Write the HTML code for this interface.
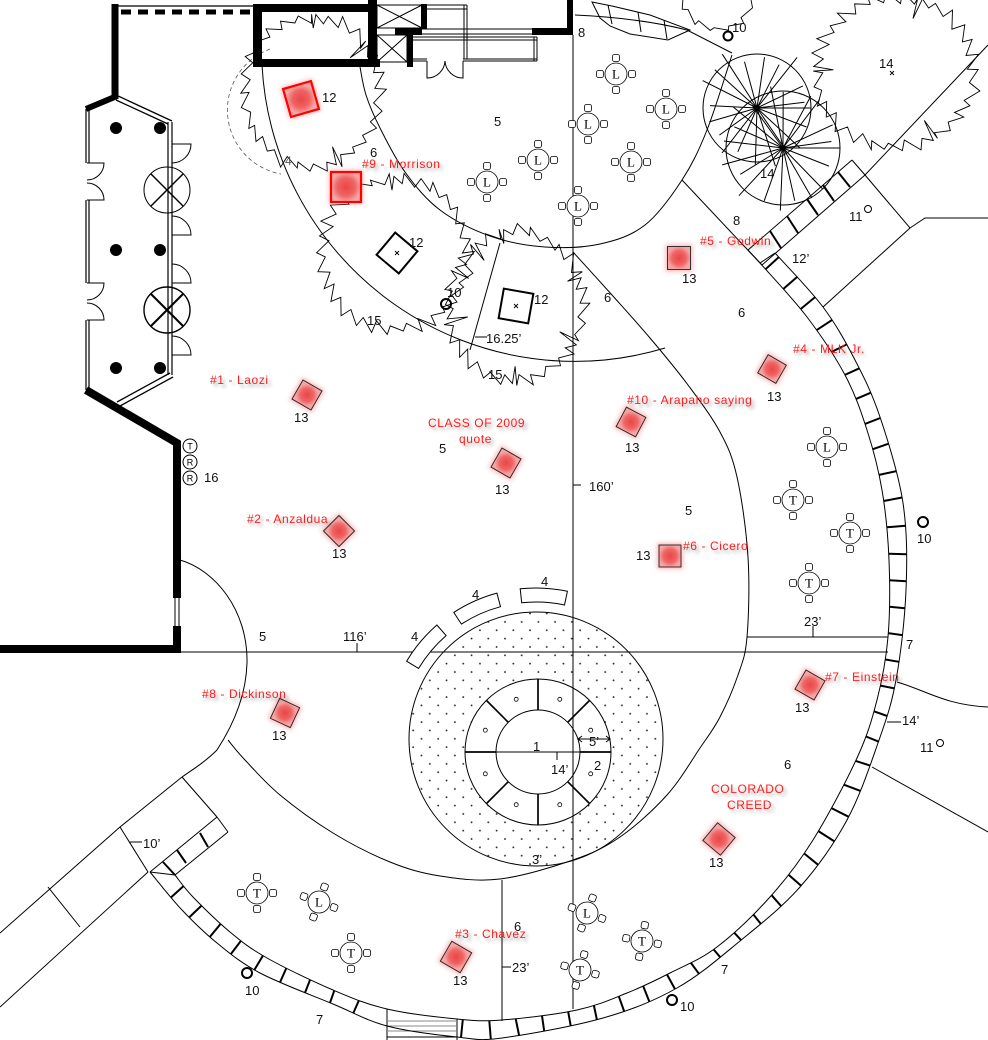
<!DOCTYPE html>
<html><head><meta charset="utf-8">
<style>
html,body{margin:0;padding:0;background:#fff;}
svg{display:block;}
.n{font-family:"Liberation Sans",Arial,sans-serif;font-size:13px;fill:#111;}
.r{font-family:"Liberation Sans",Arial,sans-serif;font-size:12px;fill:#ff1a1a;letter-spacing:0.6px;filter:url(#sh);}
.t{font-family:"Liberation Serif",serif;font-size:13px;fill:#000;text-anchor:middle;}
.s{font-family:"Liberation Sans",Arial,sans-serif;font-size:9px;fill:#000;text-anchor:middle;}
</style></head><body>
<svg id="s" xmlns="http://www.w3.org/2000/svg" width="988" height="1040" viewBox="0 0 988 1040">
<defs>
 <pattern id="dots" patternUnits="userSpaceOnUse" width="16.7" height="16.7"><circle cx="4" cy="4" r="0.9" fill="#222"/><circle cx="12.35" cy="12.35" r="0.9" fill="#222"/></pattern>
 <filter id="sh" x="-10%" y="-40%" width="130%" height="200%"><feDropShadow dx="3" dy="3" stdDeviation="1.6" flood-color="#000" flood-opacity="0.3"/></filter>
 <filter id="bl" x="-50%" y="-50%" width="200%" height="200%"><feGaussianBlur stdDeviation="2.5"/></filter>
 <radialGradient id="rg"><stop offset="0" stop-color="#ea4646"/><stop offset="0.6" stop-color="#ef6464"/><stop offset="1" stop-color="#f6a4a4"/></radialGradient>
</defs>
<rect width="988" height="1040" fill="#fff"/>

<!-- plaza dots -->
<path d="M409,739 a127,127 0 1,0 254,0 a127,127 0 1,0 -254,0 Z M465,752 a73,73 0 1,0 146,0 a73,73 0 1,0 -146,0 Z" fill="url(#dots)" fill-rule="evenodd" stroke="none"/>

<g fill="none" stroke="#000" stroke-width="1">
 <!-- long lines -->
 <line x1="573" y1="35" x2="573" y2="1009"/>
 <line x1="178" y1="652" x2="888" y2="652"/>
 <line x1="747" y1="637" x2="888" y2="637"/>
 <line x1="502" y1="880" x2="502" y2="1021"/>
 <line x1="573" y1="485" x2="581" y2="485"/>
 <line x1="357" y1="643" x2="357" y2="652"/>
 <line x1="813" y1="626" x2="813" y2="637"/>
 <line x1="502" y1="967" x2="511" y2="967"/>
 <line x1="887" y1="722" x2="901" y2="722"/>
 <line x1="130" y1="842" x2="142" y2="842"/>
 <line x1="500" y1="243" x2="470" y2="350"/>
 <line x1="475" y1="337" x2="487" y2="337"/>
 <!-- arcs -->
 <path d="M262,65 A313,313 0 0 0 665,348"/>
 <path d="M180,560 C215,570 248,610 247,663 C246,700 230,730 217,750 C205,762 192,770 182,777"/>
 <path d="M270,49 A65,65 0 0 0 281,174" stroke="#555" stroke-width="0.8" stroke-dasharray="4 3"/>
 <!-- top line / planter -->
 <path d="M575,15 Q640,18 687,30 L732,53"/>
 <path d="M592,2 L612,6 L650,15 L690,30 L668,40 L630,34 L610,26 L600,18 Z"/>
 <line x1="608" y1="5" x2="612" y2="24"/><line x1="638" y1="12" x2="641" y2="32"/><line x1="664" y1="20" x2="667" y2="39"/>
 <!-- NE -->
 <line x1="682" y1="180" x2="760" y2="263"/>
 <line x1="748" y1="250" x2="852" y2="160"/>
 <polyline points="762,265 865,175 988,45"/>
 <g stroke-width="2">
  <line x1="748" y1="250" x2="762" y2="265" stroke-width="1"/>
  <line x1="770" y1="231" x2="781" y2="248"/><line x1="787" y1="216" x2="798" y2="233"/>
  <line x1="807" y1="199" x2="818" y2="215"/><line x1="823" y1="185" x2="834" y2="201"/>
  <line x1="838" y1="172" x2="850" y2="187"/><line x1="852" y1="160" x2="865" y2="175" stroke-width="1"/>
 </g>
 <polyline points="865,175 910,228 925,218 988,218"/>
 <line x1="823" y1="307" x2="910" y2="228"/>
 <line x1="760" y1="263" x2="775" y2="253"/>
 <!-- right side -->
 <path d="M897,682 C925,690 945,705 988,707"/>
 <line x1="872" y1="767" x2="988" y2="832"/>
 <!-- SW path -->
 <polyline points="0,933 120,827 182,777"/>
 <line x1="0" y1="1007" x2="148" y2="872"/>
 <line x1="48" y1="887" x2="80" y2="927"/>
 <line x1="120" y1="827" x2="148" y2="872"/>
 <line x1="182" y1="777" x2="217" y2="817"/>
 <line x1="150" y1="872" x2="217" y2="817"/>
 <line x1="175" y1="875" x2="228" y2="832"/>
 <line x1="217" y1="817" x2="228" y2="832"/>
 <line x1="150" y1="872" x2="175" y2="875"/>
 <line x1="163" y1="862" x2="175" y2="875" stroke-width="2"/>
 <line x1="177" y1="850" x2="186" y2="863" stroke-width="2"/>
 <line x1="200" y1="833" x2="208" y2="847" stroke-width="2"/>
 <!-- stairs -->
 <line x1="387" y1="1009" x2="387" y2="1040"/>
 <line x1="457" y1="1019" x2="457" y2="1040"/>
 <g stroke="#888"><line x1="387" y1="1021" x2="457" y2="1021"/><line x1="387" y1="1026" x2="457" y2="1026"/><line x1="387" y1="1031" x2="457" y2="1031"/></g>
 <line x1="387" y1="1037" x2="457" y2="1037"/>

 <!-- plaza -->
 <circle cx="536" cy="739" r="127"/>
 <circle cx="538" cy="752" r="73"/>
 <circle cx="538" cy="752" r="42"/>
 <line x1="496" y1="752" x2="580" y2="752"/>
 <g stroke-width="1.7">
  <line x1="580" y1="752" x2="611" y2="752"/><line x1="567.7" y1="781.7" x2="589.6" y2="803.6"/>
  <line x1="538" y1="794" x2="538" y2="825"/><line x1="508.3" y1="781.7" x2="486.4" y2="803.6"/>
  <line x1="496" y1="752" x2="465" y2="752"/><line x1="508.3" y1="722.3" x2="486.4" y2="700.4"/>
  <line x1="538" y1="710" x2="538" y2="679"/><line x1="567.7" y1="722.3" x2="589.6" y2="700.4"/>
 </g>
 <g stroke-width="0.8">
  <circle cx="590.7" cy="773.8" r="2"/><circle cx="559.8" cy="804.7" r="2"/><circle cx="516.2" cy="804.7" r="2"/><circle cx="485.3" cy="773.8" r="2"/>
  <circle cx="485.3" cy="730.2" r="2"/><circle cx="516.2" cy="699.3" r="2"/><circle cx="559.8" cy="699.3" r="2"/><circle cx="590.7" cy="730.2" r="2"/>
 </g>
 <line x1="578" y1="739" x2="610" y2="739"/>
 <path d="M582,736 L578,739 L582,742 M606,736 L610,739 L606,742"/>
 <line x1="557" y1="752" x2="557" y2="760"/>

 <!-- left building -->
 <line x1="115" y1="4" x2="115" y2="99" stroke-width="7"/>
 <line x1="115" y1="6" x2="257" y2="6" stroke-width="1.2"/>
 <line x1="121" y1="12" x2="255" y2="12" stroke-width="5" stroke-dasharray="10 7"/>
 <line x1="117" y1="96" x2="86" y2="109" stroke-width="6"/>
 <line x1="116" y1="95" x2="172" y2="121" stroke-width="1.3"/>
 <line x1="116" y1="100" x2="168" y2="124" stroke-width="1.3"/>
 <g stroke-width="1.2">
  <line x1="86" y1="109" x2="86" y2="163"/><line x1="89" y1="109" x2="89" y2="163"/>
  <line x1="86" y1="200" x2="86" y2="283"/><line x1="89" y1="200" x2="89" y2="283"/>
  <line x1="86" y1="320" x2="86" y2="390"/><line x1="89" y1="320" x2="89" y2="390"/>
  <line x1="168" y1="122" x2="168" y2="375"/><line x1="172" y1="122" x2="172" y2="375"/>
 </g>
 <path d="M87,163 H104 A17,17 0 0 1 87,180"/>
 <path d="M87,200 H104 A17,17 0 0 0 87,183"/>
 <path d="M87,283 H104 A17,17 0 0 1 87,300"/>
 <path d="M87,320 H104 A17,17 0 0 0 87,303"/>
 <path d="M172,144 H191 A19,19 0 0 1 172,163"/>
 <path d="M172,216 A19,19 0 0 1 191,235 H172"/>
 <path d="M172,264 A19,19 0 0 1 191,283 H172"/>
 <path d="M172,336 A19,19 0 0 1 191,355 H172"/>
 <circle cx="167" cy="190" r="23"/>
 <line x1="151" y1="174" x2="183" y2="206" stroke-width="1.5"/><line x1="183" y1="174" x2="151" y2="206" stroke-width="1.5"/>
 <circle cx="167" cy="310" r="23" stroke-width="1.4"/>
 <line x1="151" y1="294" x2="183" y2="326" stroke-width="2"/><line x1="183" y1="294" x2="151" y2="326" stroke-width="2"/>
 <line x1="170" y1="373" x2="117" y2="402" stroke-width="1.3"/>
 <line x1="173" y1="377" x2="120" y2="406" stroke-width="1.3"/>
 <path d="M86,390 L177,443 L177,598" stroke-width="8"/>
 <path d="M177,626 L177,649 L0,649" stroke-width="8"/>
 <line x1="175" y1="598" x2="175" y2="626"/><line x1="179" y1="598" x2="179" y2="626"/>

 <!-- top building box -->
 <g fill="#000" stroke="none">
  <rect x="253" y="4" width="9" height="63"/>
  <rect x="253" y="4" width="124" height="8"/>
  <rect x="253" y="59" width="127" height="8"/>
  <rect x="368" y="0" width="9" height="67"/>
  <rect x="421" y="4" width="6" height="25"/>
  <rect x="395" y="28" width="27" height="7"/>
  <rect x="407" y="28" width="6" height="39"/>
  <rect x="532" y="28" width="41" height="7"/>
  <rect x="567" y="0" width="6" height="35"/>
 </g>
 <rect x="377" y="5" width="45" height="23"/>
 <path d="M377,5 L422,28 M422,5 L377,28"/>
 <rect x="377" y="35" width="30" height="27"/>
 <path d="M377,35 L407,62 M407,35 L377,62"/>
 <line x1="422" y1="29" x2="532" y2="29"/><line x1="422" y1="34" x2="532" y2="34"/>
 <line x1="413" y1="37" x2="537" y2="37"/><line x1="413" y1="40" x2="537" y2="40"/>
 <line x1="413" y1="59" x2="427" y2="59"/><line x1="413" y1="61" x2="427" y2="61"/>
 <line x1="463" y1="59" x2="537" y2="59"/><line x1="463" y1="61" x2="537" y2="61"/>
 <line x1="534" y1="37" x2="534" y2="61"/><line x1="537" y1="37" x2="537" y2="61"/>
 <line x1="427" y1="5" x2="467" y2="5"/><line x1="427" y1="9" x2="467" y2="9"/>
 <line x1="464" y1="5" x2="464" y2="59"/><line x1="467" y1="5" x2="467" y2="59"/>
 <path d="M427,61 V78 A18,18 0 0 0 445,61 M463,61 V78 A18,18 0 0 1 445,61"/>

 <!-- tree squares -->
 <rect x="-14.5" y="-14.5" width="29" height="29" stroke-width="2" transform="translate(397,253) rotate(40)"/>
 <rect x="-15" y="-15" width="30" height="30" stroke-width="2" transform="translate(516,306) rotate(10)"/>
 <path d="M395,251 l4,4 M399,251 l-4,4 M514,304 l4,4 M518,304 l-4,4 M890,71 l4,4 M894,71 l-4,4" stroke-width="0.9"/>

 <!-- small circles -->
 <g stroke-width="2">
  <circle cx="728" cy="36" r="4.5"/><circle cx="446" cy="304" r="5"/><circle cx="923" cy="522" r="5"/>
  <circle cx="247" cy="973" r="5"/><circle cx="672" cy="1000" r="5"/>
 </g>
 <circle cx="868" cy="209" r="3.5"/><circle cx="940" cy="743" r="3.5"/>
 <circle cx="190" cy="446" r="7"/><circle cx="190" cy="462" r="7"/><circle cx="190" cy="478" r="7"/>
</g>

<g id="g" fill="none" stroke="#000" stroke-width="1"></g>

<!-- table letters -->
<g>
<text class="t" x="616" y="78.5">L</text><text class="t" x="666" y="113.5">L</text><text class="t" x="588" y="128.5">L</text>
<text class="t" x="538" y="164.5">L</text><text class="t" x="487" y="186.5">L</text><text class="t" x="631" y="166.5">L</text>
<text class="t" x="578" y="210.5">L</text><text class="t" x="827" y="451.5">L</text><text class="t" x="319" y="906.5">L</text>
<text class="t" x="587" y="917.5">L</text>
<text class="t" x="793" y="504.5">T</text><text class="t" x="850" y="537.5">T</text><text class="t" x="809" y="587.5">T</text>
<text class="t" x="257" y="897.5">T</text><text class="t" x="351" y="957.5">T</text><text class="t" x="642" y="945.5">T</text>
<text class="t" x="580" y="974.5">T</text>
<text class="s" x="190" y="449.5">T</text><text class="s" x="190" y="465.5">R</text><text class="s" x="190" y="481.5">R</text>
</g>

<!-- numbers -->
<g class="n">
<text x="322" y="102">12</text><text x="370" y="157">6</text><text x="285" y="165" style="fill:#555;font-size:12px">4</text>
<text x="494" y="126">5</text><text x="578" y="37">8</text><text x="732" y="32">10</text>
<text x="879" y="68">14</text><text x="760" y="178">14</text><text x="733" y="225">8</text>
<text x="849" y="221">11</text><text x="792" y="263">12’</text><text x="682" y="283">13</text>
<text x="409" y="247">12</text><text x="447" y="297">10</text><text x="534" y="304">12</text>
<text x="367" y="325">15</text><text x="488" y="379">15</text><text x="486" y="343">16.25’</text>
<text x="604" y="302">6</text><text x="738" y="317">6</text><text x="767" y="401">13</text>
<text x="625" y="452">13</text><text x="294" y="422">13</text><text x="439" y="453">5</text>
<text x="495" y="494">13</text><text x="589" y="491">160’</text><text x="685" y="515">5</text>
<text x="204" y="482">16</text><text x="332" y="558">13</text><text x="636" y="560">13</text>
<text x="917" y="543">10</text><text x="804" y="626">23’</text><text x="906" y="649">7</text>
<text x="259" y="641">5</text><text x="343" y="641">116’</text><text x="411" y="641">4</text>
<text x="472" y="599">4</text><text x="541" y="586">4</text><text x="795" y="712">13</text>
<text x="272" y="740">13</text><text x="902" y="725">14’</text><text x="920" y="752">11</text>
<text x="533" y="751">1</text><text x="589" y="746">5’</text><text x="594" y="770">2</text>
<text x="551" y="774">14’</text><text x="532" y="864">3’</text><text x="784" y="769">6</text>
<text x="709" y="867">13</text><text x="514" y="931">6</text><text x="512" y="972">23’</text>
<text x="721" y="974">7</text><text x="680" y="1011">10</text><text x="143" y="848">10’</text>
<text x="245" y="995">10</text><text x="316" y="1024">7</text><text x="453" y="985">13</text>
</g>

<!-- red labels -->
<g>
<text class="r" x="362" y="168">#9 - Morrison</text>
<text class="r" x="700" y="245">#5 - Godwin</text>
<text class="r" x="793" y="353">#4 - MLK Jr.</text>
<text class="r" x="627" y="404">#10 - Arapaho saying</text>
<text class="r" x="210" y="384">#1 - Laozi</text>
<text class="r" x="428" y="427">CLASS OF 2009</text>
<text class="r" x="459" y="443">quote</text>
<text class="r" x="247" y="523">#2 - Anzaldua</text>
<text class="r" x="683" y="550">#6 - Cicero</text>
<text class="r" x="825" y="681">#7 - Einstein</text>
<text class="r" x="202" y="698">#8 - Dickinson</text>
<text class="r" x="711" y="793">COLORADO</text>
<text class="r" x="727" y="809">CREED</text>
<text class="r" x="455" y="938">#3 - Chavez</text>
</g>
</svg>
<script>
(function(){
const NS='http://www.w3.org/2000/svg';
const G=document.getElementById('g');
function mk(t,a,p){const e=document.createElementNS(NS,t);for(const k in a)e.setAttribute(k,a[k]);(p||G).appendChild(e);return e;}
function f(v){return (+v).toFixed(1);}
function cr(p){let d='M'+f(p[0][0])+','+f(p[0][1]);for(let i=0;i<p.length-1;i++){const p0=p[i-1]||p[i],p1=p[i],p2=p[i+1],p3=p[i+2]||p2;
 d+=' C'+f(p1[0]+(p2[0]-p0[0])/6)+','+f(p1[1]+(p2[1]-p0[1])/6)+' '+f(p2[0]-(p3[0]-p1[0])/6)+','+f(p2[1]-(p3[1]-p1[1])/6)+' '+f(p2[0])+','+f(p2[1]);}return d;}
function rnd(s){return function(){s=(s*16807)%2147483647;return (s-1)/2147483646;};}
function P(cx,cy,rx,ry,a,r){return [cx+rx*r*Math.cos(a),cy+ry*r*Math.sin(a)];}

// curves
mk('path',{d:cr([[360,67],[366,95],[380,128],[405,172],[440,210],[490,236],[545,247],[600,244],[645,225],[682,180],[707,130],[732,55]])});
mk('path',{d:cr([[573,252],[612,295],[650,338],[688,385],[720,432],[737,477],[748,557],[747,637],[738,675],[720,717],[700,748],[667,795],[620,837],[573,860],[500,879],[440,876],[390,862],[333,833],[280,795],[245,760],[228,740]])});

// ring wall
const IN=[[175,875],[193,897],[230,932],[267,958],[333,990],[387,1009],[457,1019],[502,1020],[577,1010],[627,993],[670,973],[717,947],[770,897],[813,840],[857,758],[877,700],[888,637],[889,560],[882,490],[867,430],[845,375],[807,317],[760,263]];
const OUT=[[150,872],[182,910],[217,943],[260,973],[333,1004],[387,1026],[457,1037],[502,1038],[603,1018],[677,988],[740,941],[800,887],[847,820],[878,743],[896,680],[906,590],[903,503],[880,417],[855,360],[823,307],[775,253]];
const pi=mk('path',{d:cr(IN)}), po=mk('path',{d:cr(OUT)});
try{
 const Lo=po.getTotalLength(), os=[];
 for(let s=0;s<=Lo;s+=1.5){const q=po.getPointAtLength(s);os.push([q.x,q.y]);}
 const Li=pi.getTotalLength();
 for(let s=14;s<Li-6;s+=26.5){const p=pi.getPointAtLength(s);
  if(p.y>995&&p.x>380&&p.x<462)continue;
  let b=null,bd=1e9;for(const q of os){const d=(q[0]-p.x)*(q[0]-p.x)+(q[1]-p.y)*(q[1]-p.y);if(d<bd){bd=d;b=q;}}
  if(b&&bd<900)mk('line',{x1:f(p.x),y1:f(p.y),x2:f(b[0]),y2:f(b[1]),'stroke-width':2});}
}catch(e){}

// trees
function tree(cx,cy,rx,ry,seed,n){
 const R=rnd(seed);const st=2*Math.PI/n;let pts=[];
 for(let i=0;i<n;i++){const a=i*st+(R()-0.5)*st*0.3;
  pts.push(P(cx,cy,rx,ry,a,1+(R()-0.5)*0.08));
  if(R()<0.15){pts.push(P(cx,cy,rx,ry,a+st*0.12,0.68+R()*0.12));pts.push(P(cx,cy,rx,ry,a+st*0.28,0.97));}
  pts.push(P(cx,cy,rx,ry,a+st*0.85,0.88+(R()-0.5)*0.05));}
 mk('path',{d:'M'+pts.map(p=>f(p[0])+','+f(p[1])).join(' L')+' Z','stroke-width':0.9});
}
tree(312,92,72,80,7,28);
tree(395,254,78,80,13,30);
tree(516,306,72,80,29,28);
tree(895,72,84,80,41,30);
tree(718,-12,40,45,5,14);

// radial trees
function radial(cx,cy,r,seed){mk('circle',{cx:cx,cy:cy,r:r});const R=rnd(seed);
 for(let i=0;i<20;i++){const a=i*Math.PI*2/20+R()*0.2;const L=r*(0.85+0.35*R());
  mk('line',{x1:cx,y1:cy,x2:f(cx+L*Math.cos(a)),y2:f(cy+L*Math.sin(a))});}
 mk('circle',{cx:cx,cy:cy,r:2.5,fill:'#000'});}
radial(757,108,54,3);radial(783,148,57,11);

// benches
function sector(a0,a1,r0,r1){const c=[536,739];const Q=(a,r)=>[c[0]+r*Math.cos(a*Math.PI/180),c[1]+r*Math.sin(a*Math.PI/180)];
 const p1=Q(a0,r0),p2=Q(a1,r0),p3=Q(a1,r1),p4=Q(a0,r1);
 mk('path',{d:`M${f(p1[0])},${f(p1[1])} A${r0},${r0} 0 0 1 ${f(p2[0])},${f(p2[1])} L${f(p3[0])},${f(p3[1])} A${r1},${r1} 0 0 0 ${f(p4[0])},${f(p4[1])} Z`,fill:'#fff'});}
sector(-96,-78,137,151);sector(-123,-105,137,151);sector(-149,-131,137,151);

// tables
function table(cx,cy,rot){const g=mk('g',{transform:`translate(${cx},${cy}) rotate(${rot||0})`,'stroke-width':0.8});
 for(const k of [0,90,180,270])mk('rect',{x:-3.5,y:-19.5,width:7,height:7,rx:2,fill:'#fff',transform:`rotate(${k})`},g);
 mk('circle',{r:11,fill:'#fff'},g);}
[[616,74],[666,109],[588,124],[538,160],[487,182],[631,162],[578,206],[827,447],[319,902,20],[587,913,20],
 [793,500],[850,533],[809,583],[257,893],[351,953],[642,941,10],[580,970,15]].forEach(t=>table(t[0],t[1],t[2]));

// plaques
function plaque(cx,cy,s,rot,red){const g=mk('g',{transform:`translate(${cx},${cy}) rotate(${rot})`});
 mk('rect',{x:-s/2-2,y:-s/2-2,width:s+4,height:s+4,fill:'#f07272',stroke:'none',filter:'url(#bl)',opacity:0.5},g);
 mk('rect',{x:-s/2,y:-s/2,width:s,height:s,fill:'url(#rg)',stroke:red?'#ff0000':'#222','stroke-width':red?2.2:0.9},g);}
[[301,99,29,-16,1],[346,187,30,0,1],[679,258,23,0],[772,369,21,30],[631,422,22,28],[307,395,22,30],[506,463,22,30],
 [339,531,22,45],[670,556,22,0],[810,685,22,30],[285,713,22,25],[719,839,23,40],[456,957,23,30]].forEach(p=>plaque(p[0],p[1],p[2],p[3],p[4]));

// building dots
[[116,128],[160,128],[116,250],[160,250],[116,368],[160,368]].forEach(d=>mk('circle',{cx:d[0],cy:d[1],r:6,fill:'#000',stroke:'none'}));
})();
</script>
</body></html>
